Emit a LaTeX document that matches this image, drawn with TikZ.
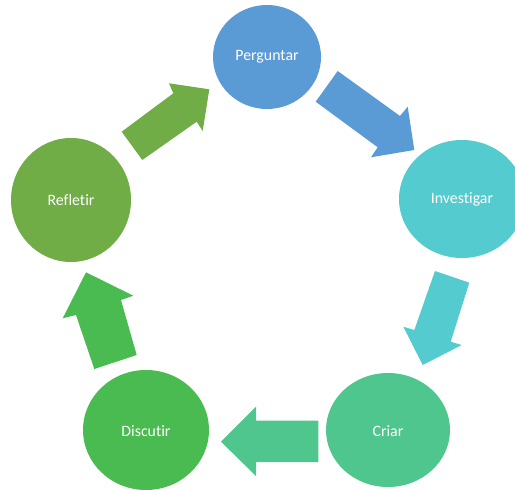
\documentclass[tikz,border=0pt]{standalone}
\usepackage{fontspec}
\setmainfont{Carlito}[Ligatures={NoCommon}]
\definecolor{cBlue}{RGB}{91,155,213}
\definecolor{cCyan}{RGB}{84,203,206}
\definecolor{cMint}{RGB}{79,198,141}
\definecolor{cGreen}{RGB}{74,187,80}
\definecolor{cOlive}{RGB}{112,173,71}
\begin{document}
\begin{tikzpicture}[x=1bp,y=-1bp,
  label/.style={text=white, font=\fontsize{15.9}{19}\selectfont},
  blockarrow/.style={fill=#1, draw=none}]
\useasboundingbox (0,0) rectangle (515,490);
\clip (0,0) rectangle (515,490);
% circles
\fill[cBlue] (267,57) ellipse [x radius=54, y radius=52];
\node[label] (perguntar) at (267,57) {Perguntar};
\fill[cCyan] (462,199) ellipse [x radius=63, y radius=59];
\node[label] (investigar) at (462,199) {Investigar};
\fill[cMint] (388,430) ellipse [x radius=62, y radius=57];
\node[label] (criar) at (388,431) {Criar};
\fill[cGreen] (146,430) ellipse [x radius=63, y radius=60];
\node[label] (discutir) at (146,431) {Discutir};
\fill[cOlive] (71,200) ellipse [x radius=60, y radius=62];
\node[label] (refletir) at (71,200) {Refletir};
% arrows
\fill[blockarrow=cBlue] (337.7,71) -- (400,116) -- (407.7,106.7) -- (414.3,150) -- (371,157.3) -- (377.7,147.3) -- (315.7,101.7) -- cycle;
\fill[blockarrow=cCyan] (435,271) -- (414.3,330) -- (403.3,326.7) -- (422.7,365) -- (461.7,345) -- (450.7,341.7) -- (469.3,282.7) -- cycle;
\fill[blockarrow=cMint] (318.3,420.7) -- (256,420.7) -- (256,406.7) -- (221,441.7) -- (256,476) -- (256,462) -- (318.3,462) -- cycle;
\fill[blockarrow=cGreen] (94.3,369) -- (76,315) -- (62.7,318.3) -- (86,272.3) -- (133.3,295.7) -- (121,300) -- (136.7,355) -- cycle;
\fill[blockarrow=cOlive] (121.7,131.7) -- (173.3,93.3) -- (169,83.3) -- (209.3,89.3) -- (202.7,131) -- (196.7,121.7) -- (142.3,160) -- cycle;
\end{tikzpicture}
\end{document}
